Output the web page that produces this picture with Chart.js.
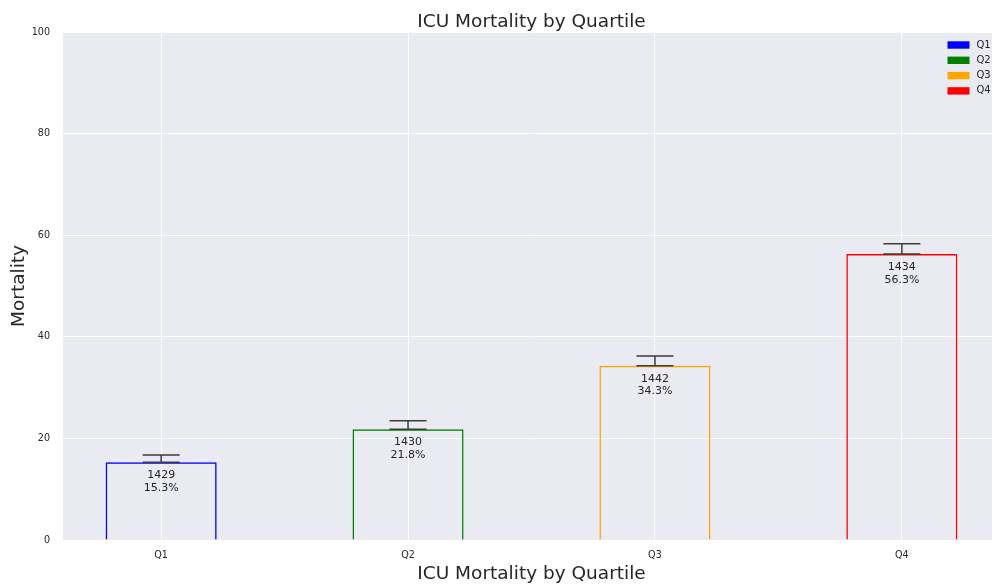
<!DOCTYPE html>
<html>
<head>
<meta charset="utf-8">
<script src="https://cdn.jsdelivr.net/npm/chart.js@4/dist/chart.umd.min.js"></script>
<style>
    html, body { margin:0; padding:0; background:#ffffff; }
    #wrap { width:992px; height:585px; overflow:hidden; }
</style>
</head>
<body>
<div id="wrap">
    <canvas id="mortChart" width="1000" height="585"></canvas>
</div>
<script>

// values
const quartiles = ["Q1", "Q2", "Q3", "Q4"];
const mortality = [15.3, 21.8, 34.3, 56.3];
const errUp = [1.45, 1.65, 1.9, 2.0];
const counts = [1429, 1430, 1442, 1434];
const barColors = ["#0000ff", "#008000", "#ffa500", "#ff0000"];
const yTicks = [0, 20, 40, 60, 80, 100];

const FONT = "'DejaVu Sans', sans-serif";
const TEXT = "#262626";

const plotBg = {
    id: 'plotBg',
    beforeDraw(chart){
        const {ctx, chartArea} = chart;
        ctx.save();
        ctx.fillStyle = '#eaeaf2';
        ctx.fillRect(chartArea.left, chartArea.top, chartArea.right - chartArea.left, chartArea.bottom - chartArea.top);
        ctx.restore();
    }
};

// title centred over the plot area, like matplotlib does
const plotTitle = {
    id: 'plotTitle',
    afterDraw(chart){
        const {ctx, chartArea} = chart;
        ctx.save();
        ctx.font = "18.5px " + FONT;
        ctx.fillStyle = TEXT;
        ctx.textAlign = 'center';
        ctx.textBaseline = 'alphabetic';
        ctx.fillText("ICU Mortality by Quartile", (chartArea.left + chartArea.right) / 2, 27);
        ctx.restore();
    }
};

const errorBars = {
    id: 'errorBars',
    afterDatasetsDraw(chart){
        const ctx = chart.ctx;
        const xs = chart.scales.x;
        const ys = chart.scales.y;
        ctx.save();
        ctx.strokeStyle = '#3d3d3d';
        ctx.lineWidth = 1.5;
        mortality.forEach((v, i) => {
            const x = xs.getPixelForValue(i);
            const y0 = ys.getPixelForValue(v);
            const y1 = ys.getPixelForValue(v + errUp[i]);
            ctx.beginPath();
            ctx.moveTo(x, y0); ctx.lineTo(x, y1);
            ctx.moveTo(x - 18.5, y0); ctx.lineTo(x + 18.5, y0);
            ctx.moveTo(x - 18.5, y1); ctx.lineTo(x + 18.5, y1);
            ctx.stroke();
        });
        ctx.restore();
    }
};

const barLabels = {
    id: 'barLabels',
    afterDatasetsDraw(chart){
        const ctx = chart.ctx;
        const xs = chart.scales.x;
        const ys = chart.scales.y;
        ctx.save();
        ctx.font = "11px " + FONT;
        ctx.fillStyle = TEXT;
        ctx.textAlign = 'center';
        ctx.textBaseline = 'middle';
        mortality.forEach((v, i) => {
            const x = xs.getPixelForValue(i);
            const y = ys.getPixelForValue(v);
            ctx.fillText(String(counts[i]), x, y + 13);
            ctx.fillText(v.toFixed(1) + "%", x, y + 25.7);
        });
        ctx.restore();
    }
};

const legendBox = {
    id: 'legendBox',
    afterDraw(chart){
        const ctx = chart.ctx;
        ctx.save();
        ctx.font = "10px " + FONT;
        ctx.textBaseline = 'middle';
        ctx.textAlign = 'left';
        quartiles.forEach((q, i) => {
            const y = 45 + i * 15.3;
            ctx.fillStyle = barColors[i];
            ctx.fillRect(947.5, y - 3.7, 22, 7.4);
            ctx.fillStyle = TEXT;
            ctx.fillText(q, 976.5, y);
        });
        ctx.restore();
    }
};

const mortChart = new Chart(document.getElementById('mortChart'), {

    type: 'bar',

    data: {
        datasets: [{
            data: mortality.map((v, i) => ({x: i, y: v})),
            backgroundColor: 'rgba(0,0,0,0)',
            borderColor: barColors,
            borderWidth: 1.5,
            barPercentage: 0.45,
            categoryPercentage: 1
        }]
    },

    plugins: [plotBg, errorBars, barLabels, plotTitle, legendBox],

    options: {
        responsive: false,
        animation: false,
        devicePixelRatio: 1,
        layout: {
            padding: {top: 32, left: 0, right: 0, bottom: 0}
        },
        plugins: {
            legend: {display: false},
            title: {display: false},
            tooltip: {enabled: false}
        },
        scales: {
            x: {
                type: 'linear',
                min: -0.3975,
                max: 3.3975,
                offset: false,
                afterBuildTicks(scale){
                    scale.ticks = quartiles.map((q, i) => ({value: i}));
                },
                afterFit(scale){
                    scale.height = 45;
                },
                grid: {
                    color: '#ffffff',
                    lineWidth: 1,
                    drawTicks: false,
                    offset: false
                },
                border: {display: false},
                ticks: {
                    padding: 10,
                    color: TEXT,
                    font: {family: FONT, size: 9.6},
                    callback: (v) => quartiles[v]
                },
                title: {
                    display: true,
                    text: 'ICU Mortality by Quartile',
                    color: TEXT,
                    font: {family: FONT, size: 18.5},
                    padding: {top: 0, bottom: 0}
                }
            },
            y: {
                min: 0,
                max: 100,
                afterBuildTicks(scale){
                    scale.ticks = yTicks.map(v => ({value: v}));
                },
                afterFit(scale){
                    scale.width = 63;
                },
                grid: {
                    color: '#ffffff',
                    lineWidth: 1,
                    drawTicks: false
                },
                border: {display: false},
                ticks: {
                    padding: 13,
                    color: TEXT,
                    font: {family: FONT, size: 9.6}
                },
                title: {
                    display: true,
                    text: 'Mortality',
                    color: TEXT,
                    font: {family: FONT, size: 18.5},
                    padding: {top: 8, bottom: 0}
                }
            }
        }
    }
});

</script>
</body>
</html>
